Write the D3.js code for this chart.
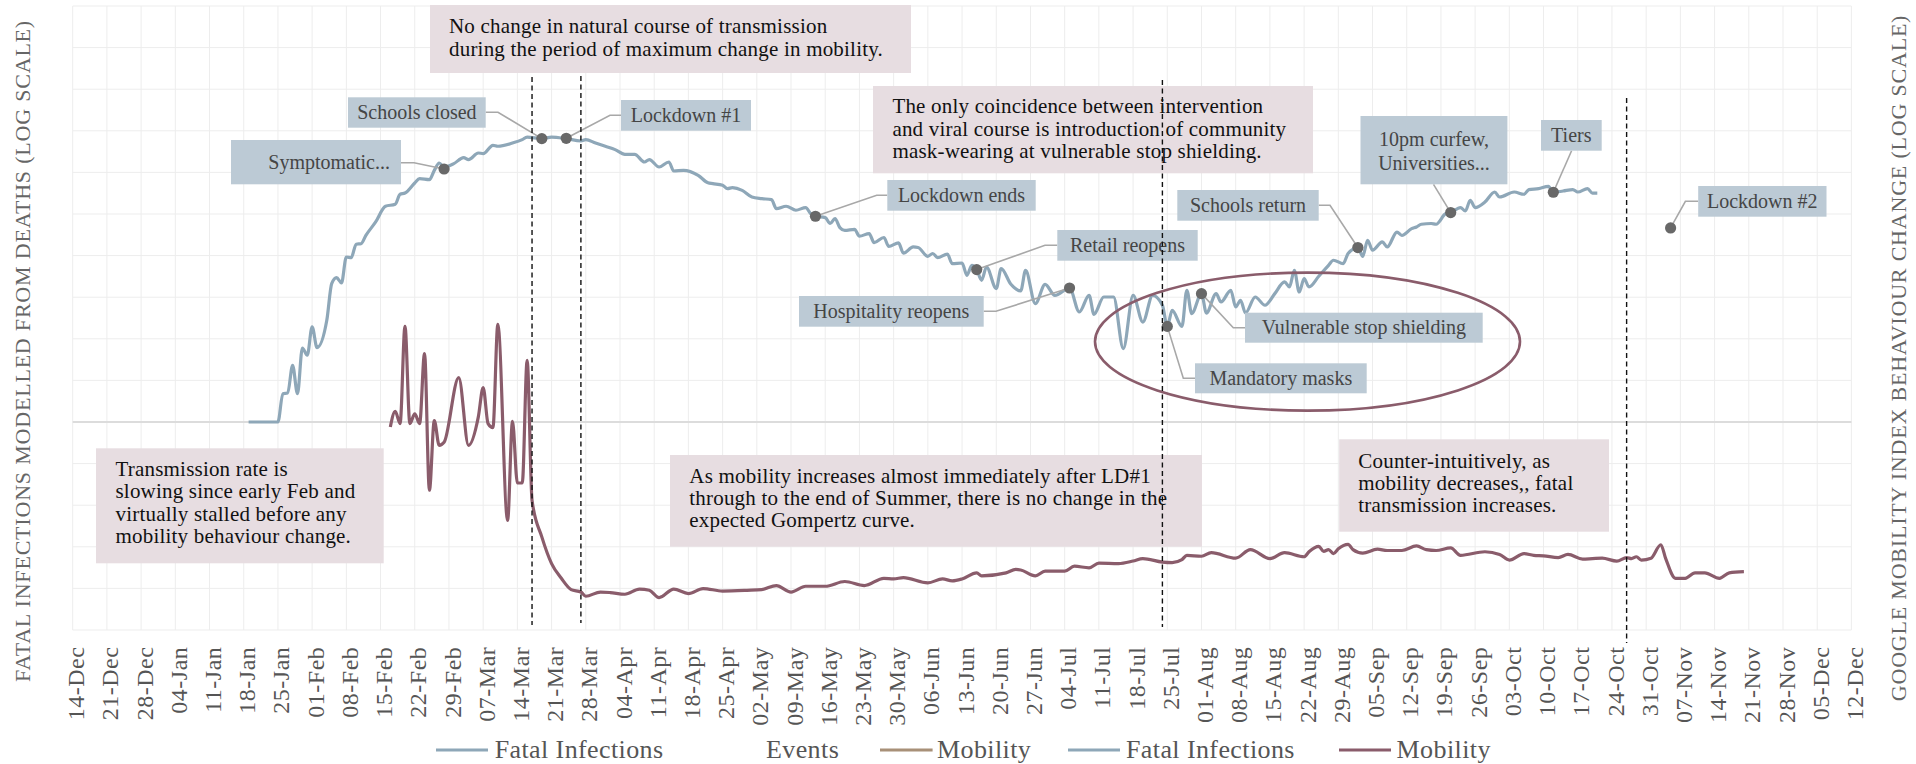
<!DOCTYPE html>
<html><head><meta charset="utf-8">
<script src="https://cdn.jsdelivr.net/npm/d3@7"></script>
<style>
html,body{margin:0;padding:0;background:#fff;}
svg{display:block;font-family:"Liberation Serif","Times New Roman",serif;}
</style></head><body>
<svg id="chart" width="1916" height="764"></svg>
<script>
// ---------------- DATA ----------------
const axisStart = "2019-12-14";
const axisEnd = "2020-12-12";

const fatalDates = ["2020-01-19","2020-01-25","2020-01-26","2020-01-27","2020-01-28","2020-01-29","2020-01-30","2020-01-31","2020-02-01","2020-02-02","2020-02-04","2020-02-05","2020-02-06","2020-02-07","2020-02-08","2020-02-09","2020-02-10","2020-02-11","2020-02-12","2020-02-14","2020-02-16","2020-02-18","2020-02-19","2020-02-20","2020-02-22","2020-02-23","2020-02-25","2020-02-26","2020-02-27","2020-02-28","2020-03-01","2020-03-03","2020-03-04","2020-03-06","2020-03-07","2020-03-09","2020-03-10","2020-03-13","2020-03-15","2020-03-16","2020-03-19","2020-03-21","2020-03-24","2020-03-27","2020-03-28","2020-03-30","2020-04-01","2020-04-03","2020-04-05","2020-04-07","2020-04-09","2020-04-10","2020-04-12","2020-04-14","2020-04-15","2020-04-17","2020-04-20","2020-04-22","2020-04-23","2020-04-25","2020-04-26","2020-04-27","2020-04-29","2020-05-01","2020-05-03","2020-05-05","2020-05-06","2020-05-08","2020-05-10","2020-05-12","2020-05-13","2020-05-14","2020-05-16","2020-05-17","2020-05-18","2020-05-19","2020-05-20","2020-05-22","2020-05-23","2020-05-25","2020-05-26","2020-05-28","2020-05-29","2020-05-31","2020-06-01","2020-06-03","2020-06-04","2020-06-06","2020-06-07","2020-06-08","2020-06-10","2020-06-11","2020-06-13","2020-06-14","2020-06-15","2020-06-16","2020-06-17","2020-06-18","2020-06-20","2020-06-21","2020-06-23","2020-06-25","2020-06-26","2020-06-28","2020-06-30","2020-07-02","2020-07-05","2020-07-07","2020-07-09","2020-07-10","2020-07-12","2020-07-14","2020-07-16","2020-07-18","2020-07-20","2020-07-22","2020-07-24","2020-07-25","2020-07-26","2020-07-28","2020-07-29","2020-07-30","2020-08-01","2020-08-02","2020-08-04","2020-08-05","2020-08-07","2020-08-08","2020-08-09","2020-08-10","2020-08-12","2020-08-14","2020-08-16","2020-08-18","2020-08-19","2020-08-20","2020-08-21","2020-08-22","2020-08-23","2020-08-25","2020-08-27","2020-08-28","2020-08-30","2020-08-31","2020-09-02","2020-09-03","2020-09-04","2020-09-05","2020-09-07","2020-09-08","2020-09-10","2020-09-11","2020-09-13","2020-09-14","2020-09-15","2020-09-17","2020-09-18","2020-09-20","2020-09-21","2020-09-23","2020-09-24","2020-09-25","2020-09-26","2020-09-28","2020-09-30","2020-10-01","2020-10-04","2020-10-06","2020-10-07","2020-10-09","2020-10-11","2020-10-12","2020-10-14","2020-10-16","2020-10-17","2020-10-19","2020-10-20","2020-10-21"];
const fatalValues = [1,1,2.19,2.23,4.8,2.19,7.75,6.34,13.9,7.84,16.7,46,54.4,46.9,96.2,94.6,137,139,175,254,392,414,546,565,746,842,819,1059,1297,1161,1276,1507,1426,1711,1683,2118,2061,2254,2478,2661,2547,2661,2547,2385,2478,2254,2061,1879,1651,1651,1334,1426,1161,1334,1040,1059,923,750,733,700,638,656,609,506,484,471,367,392,351,378,320,297,286,243,278,217,201,207,171,184,143,165,129,142,107,127,125,98.1,106,94.6,104,80.1,81.5,58,76.4,67.9,50.5,72.9,40.1,69.8,45.2,37.6,66.5,26.5,45.2,33.3,40.8,21,33.3,19.7,31.8,31.8,7.62,33.3,15.9,33.3,25.3,14.1,22,14.1,38.3,20.1,34.9,20.4,34.9,27.7,38.3,24.1,29,20.4,31.8,25.3,34.9,48.2,42,66.5,36.5,52.9,42,56.4,76.4,87.9,80.1,106,125,98.1,153,116,146,127,192,175,211,221,238,243,238,320,329,378,344,462,378,441,581,506,581,546,621,638,681,577,597,621,581,638,565,565];

const mobilityDates = ["2020-02-17","2020-02-18","2020-02-19","2020-02-20","2020-02-21","2020-02-22","2020-02-23","2020-02-24","2020-02-25","2020-02-26","2020-02-27","2020-02-28","2020-03-02","2020-03-04","2020-03-06","2020-03-07","2020-03-08","2020-03-09","2020-03-10","2020-03-12","2020-03-13","2020-03-14","2020-03-15","2020-03-16","2020-03-17","2020-03-19","2020-03-21","2020-03-23","2020-03-25","2020-03-27","2020-03-28","2020-03-31","2020-04-02","2020-04-05","2020-04-08","2020-04-10","2020-04-12","2020-04-15","2020-04-18","2020-04-21","2020-04-25","2020-04-30","2020-05-03","2020-05-06","2020-05-09","2020-05-12","2020-05-16","2020-05-20","2020-05-24","2020-05-28","2020-05-30","2020-06-01","2020-06-06","2020-06-09","2020-06-11","2020-06-13","2020-06-16","2020-06-17","2020-06-22","2020-06-24","2020-06-25","2020-06-28","2020-06-30","2020-07-04","2020-07-06","2020-07-09","2020-07-11","2020-07-15","2020-07-18","2020-07-20","2020-07-24","2020-07-26","2020-07-28","2020-07-29","2020-08-01","2020-08-03","2020-08-08","2020-08-11","2020-08-15","2020-08-18","2020-08-22","2020-08-23","2020-08-25","2020-08-26","2020-08-27","2020-08-28","2020-08-29","2020-08-31","2020-09-01","2020-09-03","2020-09-06","2020-09-08","2020-09-11","2020-09-14","2020-09-16","2020-09-18","2020-09-21","2020-09-23","2020-09-28","2020-10-01","2020-10-03","2020-10-06","2020-10-08","2020-10-10","2020-10-13","2020-10-15","2020-10-18","2020-10-20","2020-10-22","2020-10-25","2020-10-27","2020-10-28","2020-10-29","2020-10-30","2020-11-01","2020-11-03","2020-11-04","2020-11-06","2020-11-08","2020-11-10","2020-11-12","2020-11-15","2020-11-17","2020-11-20"];
const mobilityValues = [93.3,116,97.8,376,97.8,112,97.8,258,38.9,102,72.4,75.5,185,72.4,107,161,97.8,92.5,386,25.6,101,43,43,235,33.8,20.4,14.1,11.5,9.84,9.51,8.97,9.51,9.44,9.22,9.91,9.74,8.81,9.91,9.31,9.98,9.64,9.74,9.84,10.4,9.51,10.3,10.3,11,10.4,11.5,11.4,11.6,10.8,11.4,11.1,11.4,12.4,11.9,12.4,13,12.9,11.9,12.7,12.7,13.6,13.3,14.2,14.1,14.6,15.1,14.4,14.3,14.9,15.8,15.6,16.4,15.2,17.1,15.1,16.4,15.5,16.6,17.9,16.7,17.1,16.2,17.3,18.4,17.1,16.3,17.2,16.9,16.9,18,17.1,16.9,17.5,15.8,16.6,16,14.8,16.2,15.8,15.7,15.3,16,15,15.1,15.2,14.6,15.3,15.1,15.5,14.8,15.2,18.3,15.1,11.5,11.5,12.4,12.4,11.5,12.4,12.6];

const eventNames = ["Symptomatic...","Schools closed","Lockdown #1","Lockdown ends","Retail reopens","Hospitality reopens","Mandatory masks","Vulnerable stop shielding","Schools return","10pm curfew,|Universities...","Tiers","Lockdown #2"];
const eventDates = ["2020-02-28","2020-03-19","2020-03-24","2020-05-14","2020-06-16","2020-07-05","2020-07-25","2020-08-01","2020-09-02","2020-09-21","2020-10-12","2020-11-05"];
const eventValues = [1099,2547,2570,297,67.9,40.8,14.1,34.9,125,329,577,215];

const markerLineDates = ["2020-03-17","2020-03-27","2020-07-24","2020-10-27"];

const noteTexts = [
  ["No change in natural course of transmission","during the period of maximum change in mobility."],
  ["Transmission rate is","slowing since early Feb and","virtually stalled before any","mobility behaviour change."],
  ["As mobility increases almost immediately after LD#1","through to the end of Summer, there is no change in the","expected Gompertz curve."],
  ["The only coincidence between intervention","and viral course is introduction of community","mask-wearing at vulnerable stop shielding."],
  ["Counter-intuitively, as","mobility decreases,, fatal","transmission increases."]
];

const legendLabels = ["Fatal Infections","Events","Mobility","Fatal Infections","Mobility"];
const leftTitle = "FATAL INFECTIONS MODELLED FROM DEATHS (LOG SCALE)";
const rightTitle = "GOOGLE MOBILITY INDEX BEHAVIOUR CHANGE (LOG SCALE)";

// ---------------- LAYOUT / STYLE ----------------
const PL = 72.7, PR = 1851.4, PT = 6, PB = 630;
const C = {
  blue: "#8ea7b8", maroon: "#8a5c6b", tan: "#a89078",
  grid: "#ededed", zero: "#dcdcdc", evBox: "#bccad5", noteBox: "#e7dde1",
  marker: "#686868", conn: "#a8a8a8", evText: "#454545"
};
// label boxes for events: [x0,y0,x1,y1], text anchor x, anchor, connector elbow
const evLayout = [
  {box:[231,140,401,184.3], tx:390, anchor:"end", cy:[162.5], conn:[[401,162.7],[414,162.7]]},
  {box:[348,97.3,485.7,127.7], tx:416.9, anchor:"middle", cy:[112.5], conn:[[485.7,112.3],[498,112.3]]},
  {box:[621,100,751,130.7], tx:686, anchor:"middle", cy:[115.3], conn:[[621,115.3],[610,115.3]]},
  {box:[887.3,180,1035.7,210.7], tx:961.5, anchor:"middle", cy:[195.3], conn:[[887.3,195.3],[876.7,195.3]]},
  {box:[1057.3,230,1197.7,260.7], tx:1127.5, anchor:"middle", cy:[245.3], conn:[[1057.3,245.3],[1045,245.3]]},
  {box:[799,296,983.7,326.7], tx:891.3, anchor:"middle", cy:[311.3], conn:[[983.7,311.3],[996,311.3]]},
  {box:[1195,363.3,1366.7,393.3], tx:1280.8, anchor:"middle", cy:[378.3], conn:[[1195,378.3],[1183.3,378.3]]},
  {box:[1245,312.7,1482.7,342.7], tx:1363.8, anchor:"middle", cy:[327.7], conn:[[1245,327.7],[1233.3,327.7]]},
  {box:[1177.3,190,1318.7,220.7], tx:1248, anchor:"middle", cy:[205.3], conn:[[1318.7,205.3],[1330,205.3]]},
  {box:[1360.5,116,1507.4,184.3], tx:1434, anchor:"middle", cy:[139.5,163], conn:[[1433.5,184.3]]},
  {box:[1541,120,1601.7,150.7], tx:1571.3, anchor:"middle", cy:[135.3], conn:[[1571.6,150.7]]},
  {box:[1698.2,186,1826.5,216.7], tx:1762.3, anchor:"middle", cy:[201.3], conn:[[1698.2,201.3],[1685.4,201.3]]}
];
const noteLayout = [
  {box:[430,5,911,73], tx:449, base:[33.3,56]},
  {box:[96,448.3,383.7,563.3], tx:115.5, base:[476,498.3,520.7,542.7]},
  {box:[670,455,1202,546.7], tx:689.3, base:[482.7,505,527.3]},
  {box:[873,86,1313,173.3], tx:892.4, base:[112.7,135.7,157.7]},
  {box:[1339.2,439.3,1609,531.7], tx:1358.3, base:[467.7,490,511.7]}
];
const dashExtents = [[77,625],[76,623],[80,627],[98,643]];
const ellipseBox = {cx:1307.5, cy:341.6, rx:212.5, ry:69};

// ---------------- SCALES ----------------
const parse = d3.timeParse("%Y-%m-%d");
const x = d3.scaleTime().domain([parse(axisStart), parse(axisEnd)]).range([PL, PR]);
const yL = d3.scaleLog().domain([Math.pow(10,-2.5), 1e5]).range([PB, PT]);
const yR = d3.scaleLog().domain([Math.pow(10,0.75), Math.pow(10,4.5)]).range([PB, PT]);

const svg = d3.select("#chart");

// grid
const hVals = d3.range(-5, 11).map(k => Math.pow(10, k/2));
svg.append("g").selectAll("line").data(hVals).join("line")
  .attr("x1", PL).attr("x2", PR).attr("y1", d => yL(d)).attr("y2", d => yL(d))
  .attr("stroke", C.grid).attr("stroke-width", 1);
const weeks = x.ticks(d3.timeSaturday.every(1));
svg.append("g").selectAll("line").data(weeks).join("line")
  .attr("x1", d => x(d)).attr("x2", d => x(d)).attr("y1", PT).attr("y2", PB)
  .attr("stroke", C.grid).attr("stroke-width", 1);
svg.append("line").attr("x1", PL).attr("x2", PR).attr("y1", yL(1)).attr("y2", yL(1))
  .attr("stroke", C.zero).attr("stroke-width", 2.2);

// x axis
const xAxis = d3.axisBottom(x).ticks(d3.timeSaturday.every(1)).tickFormat(d3.timeFormat("%d-%b")).tickSize(0);
const ax = svg.append("g").attr("transform", `translate(0,${PB})`).call(xAxis);
ax.select(".domain").remove();
ax.selectAll("text")
  .attr("transform", "rotate(-90)")
  .attr("x", -16.7).attr("y", 0).attr("dy", "0.46em")
  .attr("text-anchor", "end")
  .attr("font-family", "Liberation Serif, serif")
  .attr("font-size", 24).attr("letter-spacing", "0.5px")
  .attr("fill", "#555");

// lines
const fatal = fatalDates.map((d, i) => ({date: parse(d), v: fatalValues[i]}));
const mob = mobilityDates.map((d, i) => ({date: parse(d), v: mobilityValues[i]}));
svg.append("path").datum(fatal)
  .attr("d", d3.line().x(d => x(d.date)).y(d => yL(d.v)).curve(d3.curveMonotoneX))
  .attr("fill", "none").attr("stroke", C.blue).attr("stroke-width", 3.2).attr("stroke-linejoin","round");
svg.append("path").datum(mob)
  .attr("d", d3.line().x(d => x(d.date)).y(d => yR(d.v)).curve(d3.curveMonotoneX))
  .attr("fill", "none").attr("stroke", C.maroon).attr("stroke-width", 3.2).attr("stroke-linejoin","round");

// ellipse
svg.append("ellipse").attr("cx", ellipseBox.cx).attr("cy", ellipseBox.cy)
  .attr("rx", ellipseBox.rx).attr("ry", ellipseBox.ry)
  .attr("fill", "none").attr("stroke", C.maroon).attr("stroke-width", 2.6);

// notes
noteTexts.forEach((lines, i) => {
  const L = noteLayout[i];
  svg.append("rect").attr("x", L.box[0]).attr("y", L.box[1])
    .attr("width", L.box[2]-L.box[0]).attr("height", L.box[3]-L.box[1]).attr("fill", C.noteBox);
  lines.forEach((t, j) => {
    svg.append("text").attr("x", L.tx).attr("y", L.base[j]).text(t)
      .attr("font-size", 21).attr("letter-spacing", "0.2px").attr("fill", "#111");
  });
});

// events
const events = eventNames.map((n, i) => ({name: n, date: parse(eventDates[i]), v: eventValues[i]}));
events.forEach((e, i) => {
  const L = evLayout[i];
  const mx = x(e.date), my = yL(e.v);
  const pts = L.conn.concat([[mx, my]]);
  svg.append("path").attr("d", d3.line()(pts)).attr("fill", "none")
    .attr("stroke", C.conn).attr("stroke-width", 1.6);
});
events.forEach((e, i) => {
  const L = evLayout[i];
  svg.append("rect").attr("x", L.box[0]).attr("y", L.box[1])
    .attr("width", L.box[2]-L.box[0]).attr("height", L.box[3]-L.box[1]).attr("fill", C.evBox);
  e.name.split("|").forEach((t, j) => {
    svg.append("text").attr("x", L.tx).attr("y", L.cy[j]).attr("dy", "0.33em")
      .attr("text-anchor", L.anchor).text(t)
      .attr("font-size", 20).attr("fill", C.evText);
  });
});
svg.append("g").selectAll("circle").data(events).join("circle")
  .attr("cx", d => x(d.date)).attr("cy", d => yL(d.v)).attr("r", 5.6).attr("fill", C.marker);

// dashed lines
markerLineDates.forEach((d, i) => {
  const xx = x(parse(d));
  svg.append("line").attr("x1", xx).attr("x2", xx)
    .attr("y1", dashExtents[i][0]).attr("y2", dashExtents[i][1])
    .attr("stroke", "#111").attr("stroke-width", 1.4).attr("stroke-dasharray", "5,3.5");
});

// axis titles
svg.append("text").attr("transform", "translate(30,351) rotate(-90)")
  .attr("text-anchor", "middle").attr("font-size", 22).attr("letter-spacing", "0.8px")
  .attr("fill", "#666").text(leftTitle);
svg.append("text").attr("transform", "translate(1906,358) rotate(-90)")
  .attr("text-anchor", "middle").attr("font-size", 22).attr("letter-spacing", "0.8px")
  .attr("fill", "#666").text(rightTitle);

// legend
const legendItems = [
  {line:[436,488], color:C.blue, tx:494.7},
  {line:null, color:null, tx:766},
  {line:[880,932.6], color:C.tan, tx:937},
  {line:[1068,1120], color:C.blue, tx:1126},
  {line:[1339,1391], color:C.maroon, tx:1396.6}
];
legendLabels.forEach((lab, i) => {
  const it = legendItems[i];
  if (it.line) svg.append("line").attr("x1", it.line[0]).attr("x2", it.line[1])
    .attr("y1", 750).attr("y2", 750).attr("stroke", it.color).attr("stroke-width", 3.2);
  svg.append("text").attr("x", it.tx).attr("y", 758).text(lab)
    .attr("font-size", 26).attr("letter-spacing", "0.4px").attr("fill", "#555");
});
</script>
</body></html>
